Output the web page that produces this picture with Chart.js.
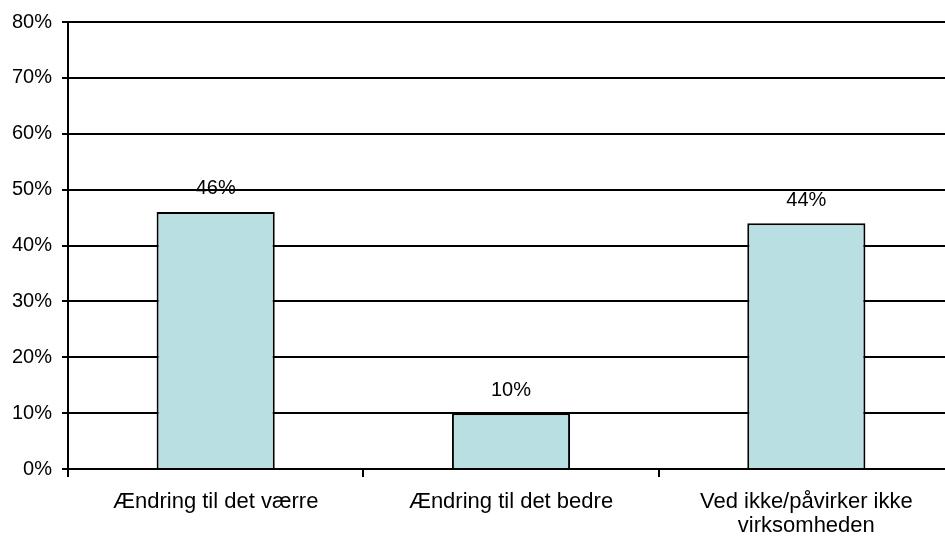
<!DOCTYPE html>
<html><head><meta charset="utf-8">
<script src="https://cdn.jsdelivr.net/npm/chart.js@4/dist/chart.umd.min.js"></script>
<style>html,body{margin:0;padding:0;background:#fff;overflow:hidden}#wrap{width:945px;height:539px;overflow:hidden}</style>
</head><body><div id="wrap"><canvas id="c" width="954" height="539"></canvas></div>
<script>
const categories = [["Ændring til det værre"], ["Ændring til det bedre"], ["Ved ikke/påvirker ikke", "virksomheden"]];
const values = [46, 10, 44];
const valueLabels = ["46%", "10%", "44%"];
const FONT = '"Liberation Sans", Arial, sans-serif';

const labelPlugin = {
  id: 'vlabels',
  afterDraw(chart) {
    const ctx = chart.ctx;
    const meta = chart.getDatasetMeta(0);
    ctx.save();
    ctx.font = '20px ' + FONT;
    ctx.fillStyle = '#000';
    ctx.textAlign = 'center';
    ctx.textBaseline = 'middle';
    meta.data.forEach((bar, i) => {
      ctx.fillText(valueLabels[i], bar.x, bar.y - 23);
    });
    ctx.restore();
  }
};

new Chart(document.getElementById('c'), {
  type: 'bar',
  data: {
    labels: categories,
    datasets: [{
      data: values,
      backgroundColor: '#b9dfe2',
      borderColor: '#000',
      borderWidth: 2,
      borderSkipped: 'bottom',
      categoryPercentage: 1,
      barPercentage: 0.4
    }]
  },
  options: {
    responsive: false,
    animation: false,
    devicePixelRatio: 1,
    layout: { padding: { top: 7, right: 0, left: 0, bottom: 0 } },
    plugins: { legend: { display: false }, tooltip: { enabled: false } },
    scales: {
      x: {
        offset: true,
        grid: { display: true, drawOnChartArea: false, drawTicks: true, tickLength: 8, color: '#000', lineWidth: 2, offset: true },
        border: { display: true, color: '#000', width: 2 },
        ticks: { color: '#000', font: { family: FONT, size: 22, lineHeight: 1.1 }, maxRotation: 0, padding: 13 },
        afterFit(s) { s.height = 70; }
      },
      y: {
        min: 0, max: 80,
        ticks: { stepSize: 10, color: '#000', font: { family: FONT, size: 20 }, callback: v => v + '%', padding: 10 },
        grid: { color: '#000', lineWidth: 2, tickLength: 6 },
        border: { display: true, color: '#000', width: 2 },
        afterFit(s) { s.width = 68; }
      }
    }
  },
  plugins: [labelPlugin]
});
</script></body></html>
